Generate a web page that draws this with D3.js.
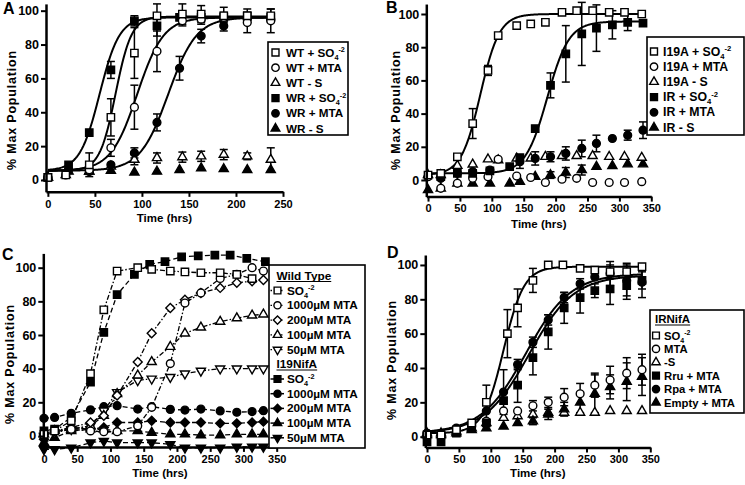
<!DOCTYPE html>
<html><head><meta charset="utf-8">
<script src="https://cdn.jsdelivr.net/npm/d3@7"></script>
<style>
body{margin:0;background:#fff}
svg text{font-family:"Liberation Sans",Arial,sans-serif;font-weight:bold;fill:#000}
</style></head><body>
<svg id="c" width="745" height="485"></svg>
<script>
// ---------------- DATA ----------------
const yTicks = [0,20,40,60,80,100];
const xTicksA = [0,50,100,150,200,250];
const xTicks350 = [0,50,100,150,200,250,300,350];
const yTitle = "% Max Population";
const xTitle = "Time (hrs)";

// Panel A
const aTimesWT = [0,19,44,67,92,116,143,163,187,212,237];
const aTimesWR = [0,22,44,67,92,116,140,163,187,212,237];
const aWtSo4 = [1.5,3,9,37,75,97,98,98,97,97,97];
const aWtSo4Err = [0,0,7,11,15,7,6,5,5,4,4];
const aWtMta = [1.5,3,6,19,43,76,94,95,96,93,94];
const aWtMtaErr = [0,0,0,5,13,12,3,3,3,6,7];
const aWtS = [1.5,3,5,8,12,13,13.5,14,15,14,12];
const aWtSErr = [0,0,0,0,3,3,3,3,3,2,7];
const aWrSo4 = [1.5,9,28,65,94,91,96,96,96,97,96];
const aWrSo4Err = [0,0,0,5,3,6,0,0,0,0,0];
const aWrMta = [1.5,6,5,9,16,34,66,85,91,95,95];
const aWrMtaErr = [0,0,0,0,3,5,7,4,3,0,0];
const aWrS = [1.5,5,5,5.5,4.5,5,6,7,6.5,6,6];
// fitted sigmoid parameters: [bottom, top, midpoint, slope]
const aFitWtSo4 = [5.5,96.5,72,8.5];
const aFitWtMta = [5.5,96,95,14];
const aFitWrSo4 = [5.5,96,55,10.5];
const aFitWrMta = [5.5,96,128,15];
const aLabels = ["WT + SO4-2","WT + MTA","WT - S","WR + SO4-2","WR + MTA","WR - S"];

// Panel B
const bTimesI19 = [0,20,46,70,94,110,139,161,184,210,233,258,284,308,335];
const bTimesIR = [0,20,46,70,97,128,144,168,192,216,241,264,289,313,337];
const bI19So4 = [3,4,14,34,66,87,93,94,95,101,102,102,101,101,100];
const bI19So4Err = [0,0,0,9,3,0,0,0,0,0,0,0,0,0,0];
const bI19Mta = [2,-5,-2,1,2,12.5,2.4,1.5,-1.5,0.5,1,-1.5,-1.5,-1.5,-1];
const bI19S = [3,3,8.6,9.4,12.5,12,13,13,14,14.5,14.5,14.5,14,14,13.5];
const bIrSo4 = [null,2,4,4,5.5,8,13.5,31,57,76,88,91.5,93.5,95,94.5];
const bIrSo4Err = [0,0,0,0,0,0,0,0,7.5,17,19,14,8.5,5,0];
const bIrMta = [null,1,4,5,6,null,11,13,14,16,19,22,25,27,30];
const bIrMtaErr = [0,0,0,0,0,0,4,4,3,4,5,5,0,3,5];
const bIrS = [-6,-5,-2,-2,-2,-2,-1,2,3,4.5,6,8,8.5,9.5,9.5];
const bIrSErr = [0,0,0,0,0,0,0,0,2,3,3,0,0,0,0];
const bFitI19So4 = [3,100,82,15];
const bFitIrSo4 = [4,95.5,187,17];
const bLabels = ["I19A + SO4-2","I19A + MTA","I19A - S","IR + SO4-2","IR + MTA","IR - S"];

// Panel C
const cTimes = [0,16,41,70,90,110,141,162,190,212,236,265,290,313,330];
const cTimesI19So4 = [0,16,41,70,90,110,136,159,182,207,232,257,280,305,333];
const cWtSo4 = [1,3,9,37,75,98,100,99,98,97.5,97,97,96,93.5,null];
const cWt1000 = [1,3,4,3,2.5,2.5,6,17,43,79,85,93.6,96,100,98];
const cWt200 = [1,3,5,8,12,24,44,61,76,81,85,88,91,92,92.7];
const cWt100 = [1,3,4,6,12,25,36,44,53,61,64.5,68,70,71.7,72.3];
const cWt50 = [0,2,4,6,15,26,33,34,35,37,38.7,40,40,40,40];
const cI19So4 = [3,4,11,32,61.5,84,96,102,103.6,106.5,107,107.5,107.5,105.5,103.6];
const cI19_1000 = [10.5,11,13.5,15.5,17.4,18,16,17.4,15.8,15.4,16,14.9,14.1,14.5,15];
const cI19_200 = [-2,2,5,4,5,8,8,9,8,8,8,7.5,7.5,8,8.5];
const cI19_100 = [-4,-1,3,4,4,3,3,2,1,1,0.5,0.5,1,1,1];
const cI19_50 = [-8,-8,-7,-4,-3,-4,-4,-4,-5,-7,-7,-7,-6.5,-6.5,-6.5];
const cHeaders = ["Wild Type","I19NifA"];
const cLabels = ["SO4-2","1000\u00b5M MTA","200\u00b5M MTA","100\u00b5M MTA","50\u00b5M MTA"];

// Panel D
const dTimes = [0,22,46,70,93,120,142,166,190,215,240,263,287,313,337];
const dTimesSo4 = [0,22,46,70,93,126,142,166,190,213,240,263,287,313,337];
const dSo4 = [1,1,4,8,20,60,75,91,100,100,98,97,96,96,99];
const dSo4Err = [0,0,0,0,10,14,11,7,1,0,0,0,4,5,0];
const dMta = [2,2,4,6,9,15,15,18,20,23,25,30,33,37,39];
const dMtaErr = [0,0,0,0,0,0,0,3,3,5,6,7,8,9,9];
const dS = [2,2,3,5,8,11,12,13,14,14,14,14,15,15,15];
const dRru = [-3,-3,2,5,8,21,30,46,61,75,81,85,86,88,91];
const dRruErr = [0,0,0,0,0,0,10,10,10,9,9,4,9,8,5];
const dRpa = [2,2,5,7,15,26,42,55,68,81,89,93,95,91,90];
const dRpaErr = [0,0,0,0,0,13,3,3,3,3,3,0,7,9,9];
const dEmpty = [1,1,2,4,5,6,8,9,13,16,20,25,29,32,35];
const dEmptyErr = [0,0,0,0,0,0,0,2,3,4,6,11,7,11,11];
const dFitSo4 = [2,99,120,16];
const dFitRpa = [2,95,155,35];
const dFitRru = [2,94,160,35];
const dHeader = "IRNifA";
const dLabels = ["SO4-2","MTA","-S","Rru + MTA","Rpa + MTA","Empty + MTA"];

// ---------------- DRAWING ----------------
const svg = d3.select('#c');
const symType = {square:d3.symbolSquare, circle:d3.symbolCircle, triangle:d3.symbolTriangle, tridown:d3.symbolTriangle, diamond:d3.symbolSquare};
const symSize = {square:54, circle:48, triangle:36, tridown:36, diamond:40};
function marker(g, type, filled, x, y, k){
  k = k || 1;
  let tr = `translate(${x},${y})`;
  if (type==='tridown') tr += ' rotate(180)';
  if (type==='diamond') tr += ' rotate(45)';
  g.append('path').attr('d', d3.symbol().type(symType[type]).size(symSize[type]*k)())
   .attr('transform', tr)
   .attr('fill', filled ? '#000' : '#fff').attr('stroke','#000').attr('stroke-width',1.4);
}
function label(sel, txt, fs){
  const m = txt.match(/^(.*SO)4-2$/);
  if (m){
    sel.append('tspan').text(m[1]);
    sel.append('tspan').attr('font-size', fs*0.62).attr('dy', 3).text('4');
    sel.append('tspan').attr('font-size', fs*0.62).attr('dy', -7.5).text('-2');
  } else sel.text(txt);
}
const sig = (p, t) => p[0] + (p[1]-p[0]) / (1 + Math.exp(-(t - p[2]) / p[3]));

function panel(cfg){
  const x = d3.scaleLinear().domain(cfg.xDom).range(cfg.xRange);
  const y = d3.scaleLinear().domain(cfg.yDom).range(cfg.yRange);
  const g = svg.append('g');
  (cfg.fits||[]).forEach(f => {
    const ts = d3.range(f.from, f.to + 0.01, 1);
    g.append('path').datum(ts)
      .attr('d', d3.line().x(t => x(t)).y(t => y(sig(f.p, t))))
      .attr('fill','none').attr('stroke','#000').attr('stroke-width',2);
  });
  cfg.series.forEach(s => {
    if (!s.dash) return;
    const pts = s.t.map((t,i)=>[t, s.v[i]]).filter(d => d[1] != null);
    g.append('path').datum(pts)
      .attr('d', d3.line().x(d => x(d[0])).y(d => y(d[1])))
      .attr('fill','none').attr('stroke','#000').attr('stroke-width',1.3)
      .attr('stroke-dasharray', s.dash);
  });
  cfg.series.forEach(s => {
    if (!s.e) return;
    s.t.forEach((t,i) => {
      const v = s.v[i], e = s.e[i];
      if (v == null || !e) return;
      const cx = x(t), y1 = y(v - e), y2 = y(v + e);
      g.append('line').attr('x1',cx).attr('x2',cx).attr('y1',y1).attr('y2',y2).attr('stroke','#000').attr('stroke-width',1.5);
      [y1,y2].forEach(yy => g.append('line').attr('x1',cx-4).attr('x2',cx+4).attr('y1',yy).attr('y2',yy).attr('stroke','#000').attr('stroke-width',1.5));
    });
  });
  cfg.series.forEach(s => {
    s.t.forEach((t,i) => { if (s.v[i] != null) marker(g, s.type, s.filled, x(t), y(s.v[i])); });
  });
  const xa = g.append('g').attr('transform',`translate(0,${cfg.yRange[0]})`)
    .call(d3.axisBottom(x).tickValues(cfg.xTicks).tickSize(5).tickSizeOuter(0).tickPadding(3));
  const ya = g.append('g').attr('transform',`translate(${cfg.xRange[0]},0)`)
    .call(d3.axisLeft(y).tickValues(yTicks).tickSize(5).tickSizeOuter(0).tickPadding(2));
  [xa, ya].forEach(a => {
    a.attr('font-family', null);
    a.select('.domain').attr('stroke-width', 2.5).attr('stroke','#000');
    a.selectAll('.tick line').attr('stroke-width', 2).attr('stroke','#000');
  });
  xa.selectAll('text').attr('font-size', 11);
  ya.selectAll('text').attr('font-size', 12.5);
  g.append('text').attr('x', d3.mean(cfg.xRange)).attr('y', cfg.xTitleY).attr('text-anchor','middle').attr('font-size',11.5).text(xTitle);
  g.append('text').attr('transform',`translate(${cfg.yTitleX},${cfg.yTitleC}) rotate(-90)`).attr('text-anchor','middle')
    .attr('font-size',12.5).attr('letter-spacing',0.8).text(yTitle);
  g.append('text').attr('x', cfg.letter[0]).attr('y', cfg.letter[1]).attr('font-size',16).text(cfg.letter[2]);
  return g;
}

function legendBox(g, b){
  g.append('rect').attr('x',b[0]).attr('y',b[1]).attr('width',b[2]).attr('height',b[3])
   .attr('fill','#fff').attr('stroke','#000').attr('stroke-width',1.6);
}
function legendSimple(g, box, mx, tx, y0, dy, items, fs){
  legendBox(g, box);
  items.forEach((it,i) => {
    const yy = y0 + i*dy;
    marker(g, it.type, it.filled, mx, yy, 0.9);
    label(g.append('text').attr('x',tx).attr('y',yy+4).attr('font-size',fs), it.label, fs);
  });
}
function header(g, x, y, txt, fs){
  const t = g.append('text').attr('x',x).attr('y',y).attr('font-size',fs).text(txt);
  const w = t.node().getComputedTextLength();
  g.append('line').attr('x1',x).attr('x2',x+w).attr('y1',y+2).attr('y2',y+2).attr('stroke','#000').attr('stroke-width',1.2);
}

// ----- Panel A -----
const gA = panel({
  xDom:[-2,250], xRange:[46,283], yDom:[-7,104], yRange:[191.85,3.9], xTicks:xTicksA,
  xTitleY:222, yTitleX:16, yTitleC:110, letter:[3,14,'A'],
  fits:[{p:aFitWrSo4,from:0,to:240},{p:aFitWtSo4,from:0,to:240},{p:aFitWtMta,from:0,to:240},{p:aFitWrMta,from:0,to:240}],
  series:[
    {t:aTimesWT,v:aWtS,e:aWtSErr,type:'triangle',filled:false},
    {t:aTimesWR,v:aWrS,type:'triangle',filled:true},
    {t:aTimesWR,v:aWrMta,e:aWrMtaErr,type:'circle',filled:true},
    {t:aTimesWR,v:aWrSo4,e:aWrSo4Err,type:'square',filled:true},
    {t:aTimesWT,v:aWtMta,e:aWtMtaErr,type:'circle',filled:false},
    {t:aTimesWT,v:aWtSo4,e:aWtSo4Err,type:'square',filled:false}
  ]
});
legendSimple(gA,[268,42,80,93],275.5,286,52.5,15.2,[
  {type:'square',filled:false,label:aLabels[0]},{type:'circle',filled:false,label:aLabels[1]},
  {type:'triangle',filled:false,label:aLabels[2]},{type:'square',filled:true,label:aLabels[3]},
  {type:'circle',filled:true,label:aLabels[4]},{type:'triangle',filled:true,label:aLabels[5]}],11.7);

// ----- Panel B -----
const gB = panel({
  xDom:[-2.7,350], xRange:[426.3,651.3], yDom:[-10,106], yRange:[196.6,4.04], xTicks:xTicks350,
  xTitleY:228, yTitleX:399.5, yTitleC:110, letter:[386,13,'B'],
  fits:[{p:bFitI19So4,from:0,to:335},{p:bFitIrSo4,from:0,to:337}],
  series:[
    {t:bTimesIR,v:bIrS,e:bIrSErr,type:'triangle',filled:true},
    {t:bTimesI19,v:bI19S,type:'triangle',filled:false},
    {t:bTimesI19,v:bI19Mta,type:'circle',filled:false},
    {t:bTimesIR,v:bIrMta,e:bIrMtaErr,type:'circle',filled:true},
    {t:bTimesIR,v:bIrSo4,e:bIrSo4Err,type:'square',filled:true},
    {t:bTimesI19,v:bI19So4,e:bI19So4Err,type:'square',filled:false}
  ]
});
legendSimple(gB,[647,37,97,98],654,663,51.5,15.2,[
  {type:'square',filled:false,label:bLabels[0]},{type:'circle',filled:false,label:bLabels[1]},
  {type:'triangle',filled:false,label:bLabels[2]},{type:'square',filled:true,label:bLabels[3]},
  {type:'circle',filled:true,label:bLabels[4]},{type:'triangle',filled:true,label:bLabels[5]}],12.3);

// ----- Panel C -----
const dashWT = "5,2,1.5,2", dashI19 = "5,3";
const gC = panel({
  xDom:[-1,350], xRange:[43.3,276.7], yDom:[-6.5,108.5], yRange:[446.9,253.4], xTicks:xTicks350,
  xTitleY:477, yTitleX:14, yTitleC:364, letter:[2,260,'C'],
  series:[
    {t:cTimes,v:cI19_50,type:'tridown',filled:true,dash:dashI19},
    {t:cTimes,v:cI19_100,type:'triangle',filled:true,dash:dashI19},
    {t:cTimes,v:cI19_200,type:'diamond',filled:true,dash:dashI19},
    {t:cTimes,v:cI19_1000,type:'circle',filled:true,dash:dashI19},
    {t:cTimesI19So4,v:cI19So4,type:'square',filled:true,dash:dashI19},
    {t:cTimes,v:cWt50,type:'tridown',filled:false,dash:dashWT},
    {t:cTimes,v:cWt100,type:'triangle',filled:false,dash:dashWT},
    {t:cTimes,v:cWt200,type:'diamond',filled:false,dash:dashWT},
    {t:cTimes,v:cWt1000,type:'circle',filled:false,dash:dashWT},
    {t:cTimes,v:cWtSo4,type:'square',filled:false,dash:dashWT}
  ]
});
legendBox(gC,[269,265,96,183]);
const cTypes = ['square','circle','diamond','triangle','tridown'];
header(gC,276.5,279.5,cHeaders[0],11.8);
cTypes.forEach((tp,i) => {
  const yy = 290.5 + i*14.8;
  gC.append('line').attr('x1',270.5).attr('x2',284).attr('y1',yy).attr('y2',yy).attr('stroke','#000').attr('stroke-width',1.3).attr('stroke-dasharray','1.5,2');
  marker(gC, tp, false, 277.5, yy, 0.85);
  label(gC.append('text').attr('x',287).attr('y',yy+4).attr('font-size',11.8), cLabels[i], 11.8);
});
header(gC,276.5,368,cHeaders[1],11.8);
cTypes.forEach((tp,i) => {
  const yy = 379 + i*14.7;
  gC.append('line').attr('x1',270.5).attr('x2',284).attr('y1',yy).attr('y2',yy).attr('stroke','#000').attr('stroke-width',1.5);
  marker(gC, tp, true, 277.5, yy, 0.85);
  label(gC.append('text').attr('x',287).attr('y',yy+4).attr('font-size',11.8), cLabels[i], 11.8);
});

// ----- Panel D -----
const gD = panel({
  xDom:[-2.7,350], xRange:[425.3,650.3], yDom:[-6.3,105.8], yRange:[447.5,255.0], xTicks:xTicks350,
  xTitleY:477, yTitleX:395.5, yTitleC:360, letter:[387,258,'D'],
  fits:[{p:dFitSo4,from:0,to:337},{p:dFitRpa,from:0,to:337},{p:dFitRru,from:0,to:337}],
  series:[
    {t:dTimes,v:dS,type:'triangle',filled:false},
    {t:dTimes,v:dEmpty,e:dEmptyErr,type:'triangle',filled:true},
    {t:dTimes,v:dMta,e:dMtaErr,type:'circle',filled:false},
    {t:dTimes,v:dRru,e:dRruErr,type:'square',filled:true},
    {t:dTimes,v:dRpa,e:dRpaErr,type:'circle',filled:true},
    {t:dTimesSo4,v:dSo4,e:dSo4Err,type:'square',filled:false}
  ]
});
legendBox(gD,[650,310,94,103]);
header(gD,655,323,dHeader,11.5);
[{type:'square',filled:false},{type:'circle',filled:false},{type:'triangle',filled:false},
 {type:'square',filled:true},{type:'circle',filled:true},{type:'triangle',filled:true}].forEach((it,i)=>{
  const yy = 335.5 + i*13.4;
  marker(gD, it.type, it.filled, 656, yy, 0.85);
  label(gD.append('text').attr('x',664).attr('y',yy+4).attr('font-size',11.3), dLabels[i], 11.3);
});
</script></body></html>
